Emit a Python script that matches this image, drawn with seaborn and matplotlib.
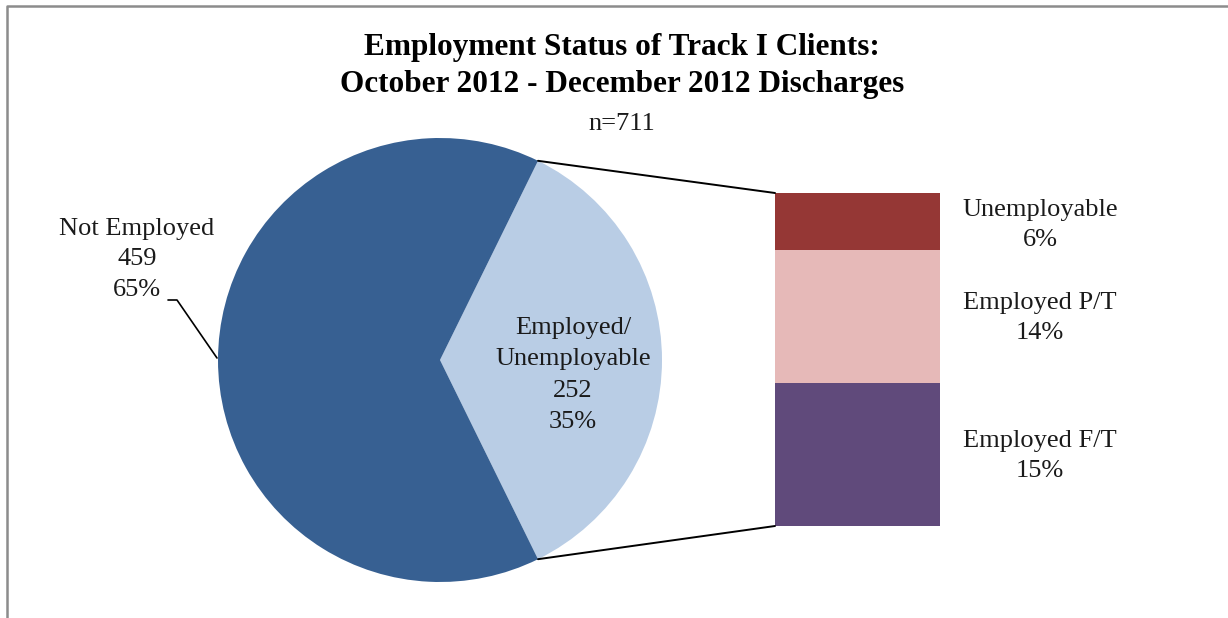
import numpy as np
import seaborn as sns
import matplotlib.pyplot as plt
from matplotlib.patches import ConnectionPatch
from matplotlib.lines import Line2D

# data
pie_labels = ['Employed/\nUnemployable', 'Not Employed']
pie_counts = [252, 459]
pie_colors = ['#B9CDE5', '#376092']

bar_labels = ['Employed F/T', 'Employed P/T', 'Unemployable']  # bottom to top
bar_pcts = [15, 14, 6]
bar_colors = ['#604A7B', '#E6B9B8', '#953735']

title = 'Employment Status of Track I Clients:\nOctober 2012 - December 2012 Discharges'
subtitle = 'n=711'

sns.set_theme(style='white')
plt.rcParams['font.family'] = ['Liberation Serif', 'DejaVu Serif']

W, H = 1228, 618
fig = plt.figure(figsize=(W / 100, H / 100), dpi=100)
LBL = 19


def box(x0, y0, x1, y1):
    # pixel box (top-left origin) -> figure fraction rect
    return [x0 / W, 1 - y1 / H, (x1 - x0) / W, (y1 - y0) / H]


# pie
ax_pie = fig.add_axes(box(218, 138, 662, 582))
total = sum(pie_counts)
half = pie_counts[0] / total * 180
wedges, _ = ax_pie.pie(pie_counts, colors=pie_colors, startangle=-half,
                       radius=1, wedgeprops=dict(linewidth=0), frame=True)
ax_pie.set_xlim(-1, 1)
ax_pie.set_ylim(-1, 1)
ax_pie.set_aspect('equal')
ax_pie.axis('off')

pcts = [round(c / total * 100) for c in pie_counts]
fig.text(573 / W, 1 - 375 / H, f'{pie_labels[0]}\n{pie_counts[0]}\n{pcts[0]}%',
         ha='center', va='center', fontsize=LBL, linespacing=1.53,
         color='#1a1a1a')

# stacked bar
ax_bar = fig.add_axes(box(775, 193, 940, 526))
bottom = 0
for lab, v, c in zip(bar_labels, bar_pcts, bar_colors):
    ax_bar.bar(0, v, bottom=bottom, width=1, color=c, linewidth=0)
    bottom += v
ax_bar.set_xlim(-0.5, 0.5)
ax_bar.set_ylim(0, sum(bar_pcts))
ax_bar.axis('off')

# bar labels
label_y = {'Unemployable': 225, 'Employed P/T': 318, 'Employed F/T': 456}
for lab, v in zip(bar_labels, bar_pcts):
    fig.text(1040 / W, 1 - label_y[lab] / H, f'{lab}\n{v}%', ha='center',
             va='center', fontsize=LBL, linespacing=1.5, color='#1a1a1a')

# connector lines from the pie slice to the bar
theta = np.deg2rad(half)
for sign, yb in [(1, sum(bar_pcts)), (-1, 0)]:
    con = ConnectionPatch(xyA=(np.cos(theta), sign * np.sin(theta)), coordsA=ax_pie.transData,
                          xyB=(-0.5, yb), coordsB=ax_bar.transData,
                          color='black', linewidth=1.4)
    fig.add_artist(con)

# not employed label with leader line
fig.text(137 / W, 1 - 259 / H, f'{pie_labels[1]}\n{pie_counts[1]}\n{pcts[1]}%',
         ha='center', va='center', fontsize=LBL, linespacing=1.5, color='#1a1a1a')
fig.add_artist(Line2D([168 / W, 177 / W, 217 / W],
                      [1 - 300 / H, 1 - 300 / H, 1 - 358 / H],
                      color='black', linewidth=1.2))

# titles
fig.text(622 / W, 1 - 66 / H, title, ha='center', va='center', fontsize=22.5,
         fontweight='bold', linespacing=1.38, color='black')
fig.text(622 / W, 1 - 124 / H, subtitle, ha='center', va='center', fontsize=19,
         color='#1a1a1a')

# chart frame
fig.add_artist(Line2D([7 / W, 7 / W, 1.01], [-0.01, 1 - 5.5 / H, 1 - 5.5 / H],
                      color='#8c8c8c', linewidth=1.8))

fig.savefig('out.png', dpi=100, facecolor='white')
